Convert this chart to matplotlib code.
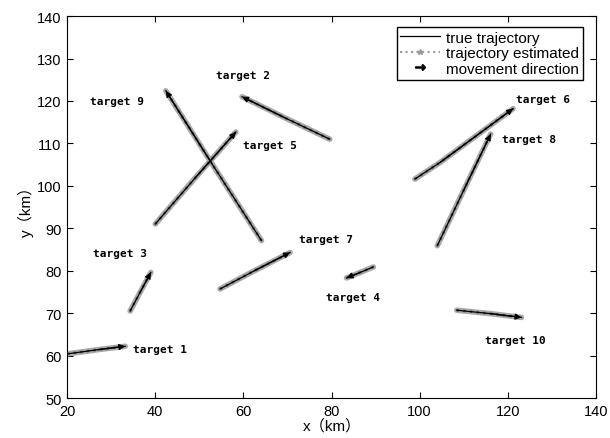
import numpy as np
import matplotlib
matplotlib.use('Agg')
import matplotlib.pyplot as plt
from matplotlib.lines import Line2D

# trajectory points (start -> end) for each target
traj_x = {
    1: [20.0, 27.0, 33.2],
    2: [79.6, 69.5, 59.7],
    3: [34.3, 36.6, 39.0],
    4: [89.5, 86.5, 83.4],
    5: [40.0, 49.0, 58.3],
    6: [98.9, 104.6, 121.2],
    7: [54.7, 62.5, 70.6],
    8: [104.0, 110.0, 116.1],
    9: [64.1, 53.0, 42.4],
    10: [108.4, 116.0, 123.1],
}
traj_y = {
    1: [60.4, 61.4, 62.2],
    2: [111.0, 116.0, 121.0],
    3: [70.5, 75.0, 79.6],
    4: [80.9, 79.6, 78.3],
    5: [91.0, 101.8, 112.7],
    6: [101.6, 105.5, 118.2],
    7: [75.7, 80.0, 84.3],
    8: [85.9, 99.0, 112.2],
    9: [87.1, 105.0, 122.4],
    10: [70.7, 69.9, 69.0],
}
label_x = [35.0, 53.8, 25.9, 78.7, 59.9, 121.8, 72.6, 118.6, 25.2, 114.8]
label_y = [61.5, 126.1, 84.2, 73.8, 109.6, 120.4, 87.5, 111.0, 120.0, 63.7]

fig = plt.figure(figsize=(6.10, 4.39), dpi=100)
ax = fig.add_axes([0.11, 0.091, 0.867, 0.870])

for k in traj_x:
    xs, ys = traj_x[k], traj_y[k]
    ax.plot(xs, ys, color='#a0a0a0', lw=4.0, alpha=0.9, solid_capstyle='round', zorder=2)
    ax.plot(xs, ys, color='#555555', lw=1.8, ls=':', zorder=3)
    ax.plot(xs, ys, color='black', lw=0.9, zorder=4)
    ax.annotate('', xy=(xs[-1], ys[-1]), xytext=(xs[-2], ys[-2]),
                arrowprops=dict(arrowstyle='-|>', color='black', lw=0.9,
                                mutation_scale=9, shrinkA=0, shrinkB=0), zorder=5)

for i, (lx, ly) in enumerate(zip(label_x, label_y)):
    ax.text(lx, ly, 'target %d' % (i + 1), fontsize=8, fontweight='bold',
            family='DejaVu Sans Mono', va='center', ha='left', zorder=6)

ax.set_xlim(20, 140)
ax.set_ylim(50, 140)
ax.set_xticks(np.arange(20, 141, 20))
ax.set_yticks(np.arange(50, 141, 10))
ax.tick_params(direction='in', top=True, right=True, labelsize=10.5, length=4)
ax.tick_params(axis='x', pad=4)
ax.tick_params(axis='y', pad=4)
for lab in ax.get_xticklabels() + ax.get_yticklabels():
    lab.set_family('Liberation Sans')
ax.set_xlabel('x（km）', fontsize=11, family=['Liberation Sans', 'Noto Sans CJK SC'], labelpad=0)
ax.set_ylabel('y（km）', fontsize=11, family=['Liberation Sans', 'Noto Sans CJK SC'], labelpad=2)

handles = [
    Line2D([], [], color='black', lw=0.9),
    Line2D([], [], color='#9a9a9a', lw=1.5, ls=':', marker='*', markersize=4),
    Line2D([], [], color='black', lw=0, marker=r'$\rightarrow$', markersize=7),
]
ax.legend(handles, ['true trajectory', 'trajectory estimated', 'movement direction'],
          loc='upper right', frameon=True, fancybox=False,
          edgecolor='black', framealpha=1, handlelength=2.6, borderpad=0.25,
          labelspacing=0.1, handletextpad=0.4, bbox_to_anchor=(0.99, 0.992),
          prop={'family': 'Liberation Sans', 'size': 11})

fig.savefig('out.png', dpi=100)
